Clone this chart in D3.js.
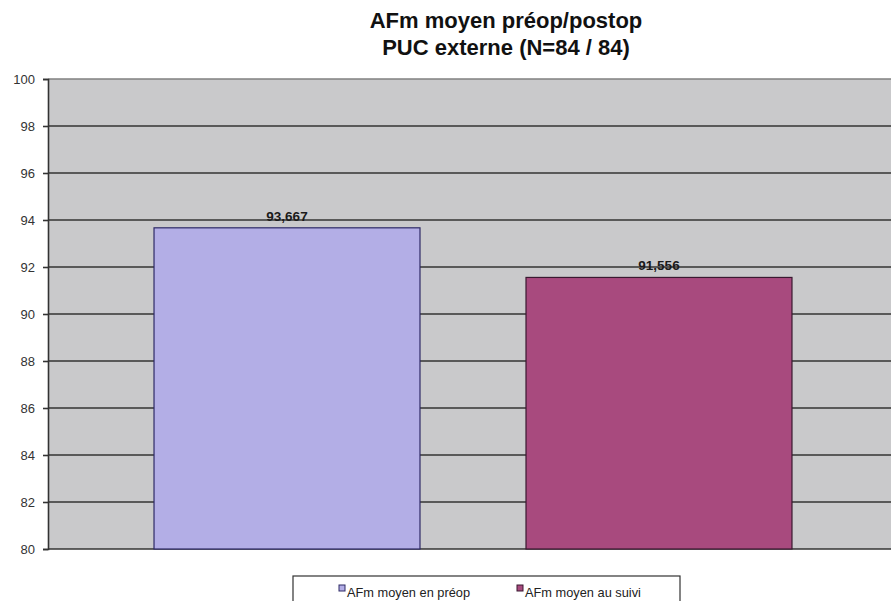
<!DOCTYPE html>
<html>
<head>
<meta charset="utf-8">
<script src="https://cdn.jsdelivr.net/npm/d3@7"></script>
<style>
  html, body { margin: 0; padding: 0; background: #ffffff; }
  svg { display: block; font-family: "Liberation Sans", Arial, sans-serif; }
</style>
</head>
<body>
<svg id="chart" width="891" height="601"></svg>
<script>
// Mean AFm before surgery and at follow-up
const categories = ["AFm moyen en préop", "AFm moyen au suivi"];
const values = [93.667, 91.556];
const colors = ["#b3aee6", "#a84a7e"];
const strokes = ["#2e2a66", "#3a1830"];
const yTicks = [80, 82, 84, 86, 88, 90, 92, 94, 96, 98, 100];
const titleLines = ["AFm moyen préop/postop", "PUC externe (N=84 / 84)"];

const svg = d3.select("#chart");
const plot = { left: 48, right: 898, top: 79, bottom: 549 };

const frFormat = d3.formatLocale({ decimal: ",", thousands: " ", grouping: [3], currency: ["", " €"] }).format(".3f");

const x = d3.scaleBand()
  .domain(categories)
  .range([plot.left, plot.right])
  .paddingInner(0.285)
  .paddingOuter(0.285);

const y = d3.scaleLinear().domain([80, 100]).range([plot.bottom, plot.top]);

// plot background
svg.append("rect")
  .attr("x", plot.left).attr("y", plot.top)
  .attr("width", plot.right - plot.left).attr("height", plot.bottom - plot.top)
  .attr("fill", "#c9c9cb");

// gridlines
svg.append("g")
  .selectAll("line")
  .data(yTicks)
  .join("line")
  .attr("x1", plot.left).attr("x2", plot.right)
  .attr("y1", d => y(d)).attr("y2", d => y(d))
  .attr("stroke", d => d === 100 ? "#808080" : "#333333")
  .attr("stroke-width", 1.6);

// bars
svg.append("g")
  .selectAll("rect")
  .data(values)
  .join("rect")
  .attr("x", (d, i) => x(categories[i]))
  .attr("y", d => y(d))
  .attr("width", x.bandwidth())
  .attr("height", d => y(80) - y(d))
  .attr("fill", (d, i) => colors[i])
  .attr("stroke", (d, i) => strokes[i])
  .attr("stroke-width", 1.2);

// value labels
svg.append("g")
  .selectAll("text")
  .data(values)
  .join("text")
  .attr("x", (d, i) => x(categories[i]) + x.bandwidth() / 2)
  .attr("y", d => y(d) - 7)
  .attr("text-anchor", "middle")
  .style("font-size", "13.5px")
  .attr("font-weight", "bold")
  .attr("fill", "#1a1a1a")
  .text(d => frFormat(d));

// y axis
const yAxis = d3.axisLeft(y).tickValues(yTicks).tickSize(5).tickPadding(8).tickFormat(d3.format("d"));
const ay = svg.append("g")
  .attr("transform", `translate(${plot.left},0)`)
  .call(yAxis);
ay.attr("font-size", null);
ay.select(".domain").attr("stroke", "#333333").attr("stroke-width", 1.6);
ay.selectAll(".tick line").attr("stroke", "#333333").attr("stroke-width", 1.6);
ay.selectAll(".tick text")
  .style("font-size", "13px")
  .attr("fill", "#333333")
  .style("font-family", "\"Liberation Sans\", Arial, sans-serif");

// title
svg.append("g")
  .selectAll("text")
  .data(titleLines)
  .join("text")
  .attr("x", 506)
  .attr("y", (d, i) => 28 + i * 27)
  .attr("text-anchor", "middle")
  .style("font-size", "22px")
  .attr("font-weight", "bold")
  .attr("fill", "#111111")
  .text(d => d);

// legend
const legend = svg.append("g");
legend.append("rect")
  .attr("x", 293).attr("y", 576)
  .attr("width", 387).attr("height", 30)
  .attr("fill", "#ffffff")
  .attr("stroke", "#333333")
  .attr("stroke-width", 1.2);

const legendX = [339, 517];
const items = legend.selectAll("g.item")
  .data(categories)
  .join("g")
  .attr("class", "item")
  .attr("transform", (d, i) => `translate(${legendX[i]},597)`);
items.append("rect")
  .attr("x", 0).attr("y", -12)
  .attr("width", 6).attr("height", 6)
  .attr("fill", (d, i) => colors[i])
  .attr("stroke", (d, i) => strokes[i])
  .attr("stroke-width", 1);
items.append("text")
  .attr("x", 8).attr("y", 0)
  .style("font-size", "12.8px")
  .attr("fill", "#222222")
  .text(d => d);
</script>
</body>
</html>
